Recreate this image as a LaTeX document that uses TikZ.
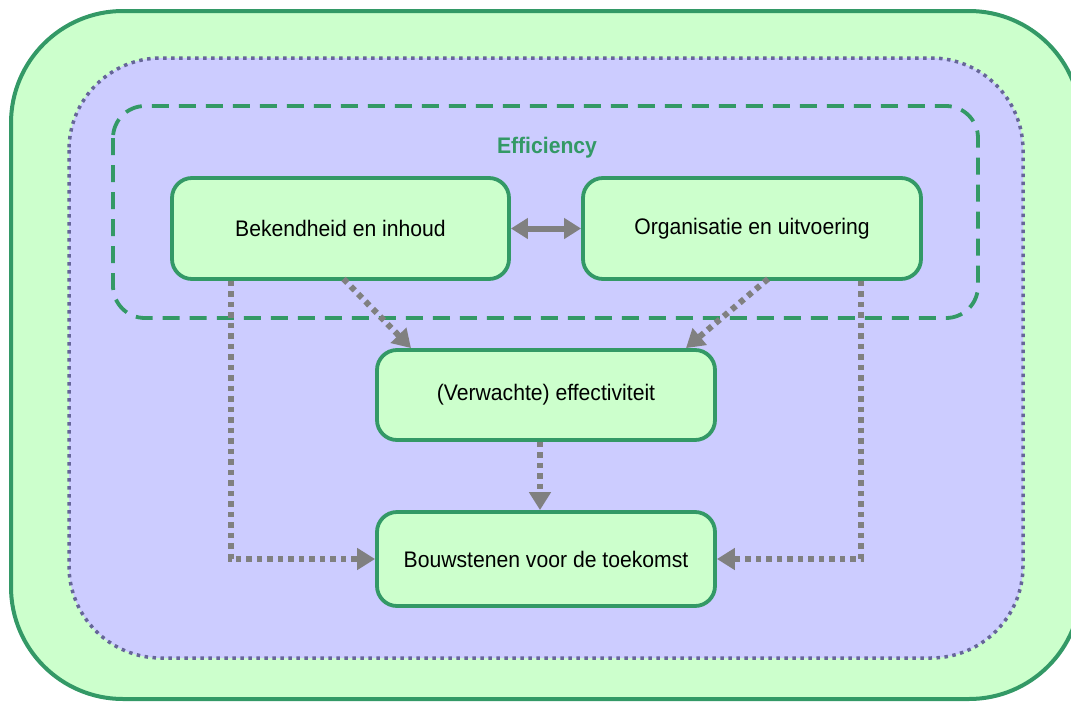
\documentclass[tikz,border=0pt]{standalone}
\usepackage{fontspec}
\setmainfont{Liberation Sans}
\newfontfamily\narrowsans[FakeStretch=0.94]{Liberation Sans}
\usetikzlibrary{arrows.meta,calc}
\definecolor{dkgreen}{RGB}{51,153,102}
\definecolor{ltgreen}{RGB}{204,255,204}
\definecolor{ltpurple}{RGB}{204,204,255}
\definecolor{dkpurple}{RGB}{102,102,153}
\definecolor{arrgray}{RGB}{128,128,128}
\tikzset{
  box/.style={draw=dkgreen, fill=ltgreen, line width=3.8pt, rounded corners=20pt,
    inner sep=0pt, font=\narrowsans\fontsize{22.5}{26}\selectfont, align=center},
  dotarrow/.style={draw=arrgray, line width=6pt, dash pattern=on 5.5pt off 5pt,
    -{Triangle[length=18pt,width=21pt]}},
  solidarrow/.style={draw=arrgray, line width=6pt,
    {Triangle[length=17pt,width=20pt]}-{Triangle[length=17pt,width=20pt]}},
}
\begin{document}
\begin{tikzpicture}[x=1pt,y=-1pt]
\useasboundingbox (0,0) rectangle (1071,702);
\clip (0,0) rectangle (1071,702);
% outer green container
\draw[draw=dkgreen, fill=ltgreen, line width=4pt, rounded corners=112pt] (11,11) rectangle (1081,699);
% dotted purple container
\draw[draw=dkpurple, fill=ltpurple, line width=3.5pt, dash pattern=on 3.5pt off 4.5pt, rounded corners=92pt] (69,58) rectangle (1023,658);
% dashed efficiency container
\draw[draw=dkgreen, line width=3.8pt, dash pattern=on 17pt off 10pt, rounded corners=32pt] (113,106) rectangle (978,318);
\node[text=dkgreen, font=\narrowsans\bfseries\fontsize{22.5}{26}\selectfont] (eff) at (547,148) {Efficiency};
% boxes
\node[box, minimum width=337pt, minimum height=101pt] (b1) at (340.5,228.5) {Bekendheid en inhoud};
\node[box, minimum width=338pt, minimum height=101pt] (b2) at (752,228.5) {Organisatie en uitvoering};
\node[box, minimum width=338pt, minimum height=90pt] (b3) at (546,395) {(Verwachte) effectiviteit};
\node[box, minimum width=338pt, minimum height=94pt] (b4) at (546,559) {Bouwstenen voor de toekomst};
% connectors
\draw[solidarrow] (b1.east) -- (b2.west);
\draw[dotarrow] ([xshift=3pt,yshift=2pt]b1.south) -- ([xshift=-135pt]b3.north);
\draw[dotarrow] ([xshift=16pt,yshift=2pt]b2.south) -- ([xshift=140pt]b3.north);
\draw[dotarrow] ([xshift=-110pt]b1.south) |- (b4.west);
\draw[dotarrow] ([xshift=109pt]b2.south) |- (b4.east);
\draw[dotarrow] ([xshift=-6pt]b3.south) -- ([xshift=-6pt]b4.north);
\end{tikzpicture}
\end{document}
